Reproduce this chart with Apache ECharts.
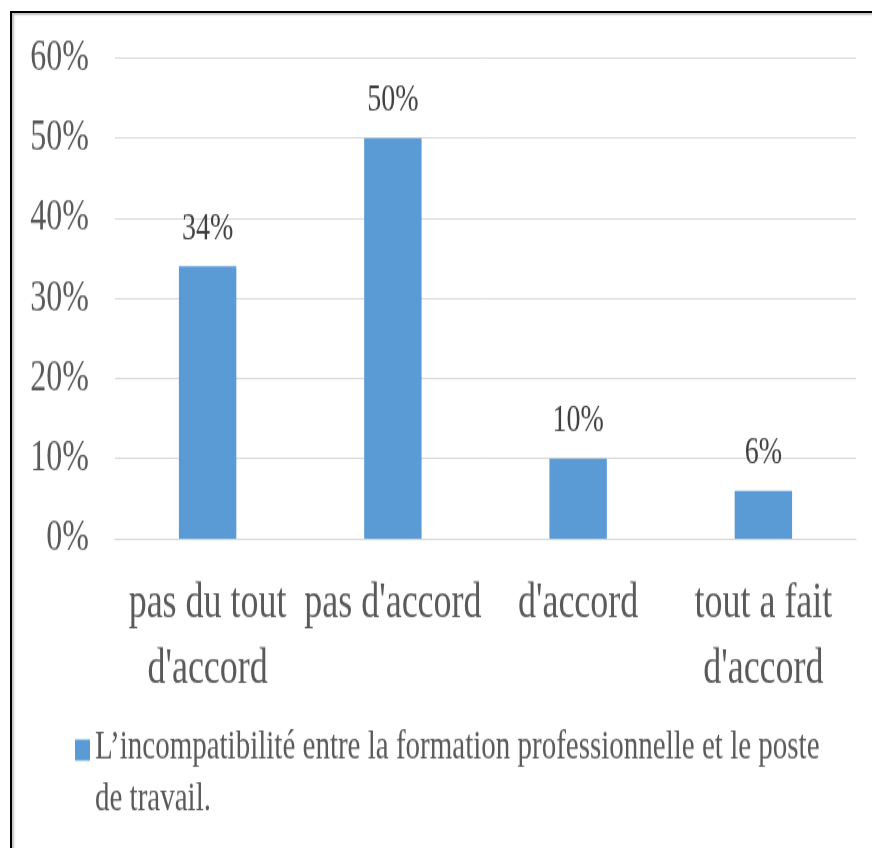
<!DOCTYPE html>
<html>
<head>
<meta charset="utf-8">
<script src="https://cdn.jsdelivr.net/npm/echarts@6/dist/echarts.min.js"></script>
<style>
html, body { margin: 0; padding: 0; background: #fff; overflow: hidden; width: 872px; height: 848px; }
#frame { position: absolute; left: 10px; top: 11px; width: 2000px; height: 2000px;
  border-top: 2px solid #000; border-left: 2px solid #000;
  box-shadow: inset 2px 2px 2px rgba(0,0,0,0.25); pointer-events: none; z-index: 2; }
#chart { position: absolute; left: 0; top: 0; width: 872px; height: 606px;
  transform: scaleY(1.3993); transform-origin: 0 0; }
</style>
</head>
<body>
<div id="chart"></div>
<div id="frame"></div>
<script>
// Data
const categories = ["pas du tout\nd'accord", "pas d'accord", "d'accord", "tout a fait\nd'accord"];
const values = [34, 50, 10, 6];
const seriesName = "L\u2019incompatibilit\u00e9 entre la formation professionnelle et le poste de travail.";
const yTicks = { min: 0, max: 60, interval: 10 };

const FONT = "'Liberation Serif', 'Times New Roman', serif";
const chart = echarts.init(document.getElementById('chart'), null, { renderer: 'canvas', width: 872, height: 606 });
chart.setOption({
  backgroundColor: 'transparent',
  animation: false,
  grid: { left: 115, right: 16, top: 41.4, bottom: 221, containLabel: false },
  legend: {
    show: true,
    left: 75,
    top: 516,
    padding: 0,
    itemWidth: 15,
    itemHeight: 49,
    icon: 'path://M0,0H15V15H0Z M7,48.9H7.1V49H7Z',
    formatter: function (name) { return name.replace(' de travail.', '\nde travail.'); },
    textStyle: { fontFamily: FONT, fontSize: 29, lineHeight: 37, color: '#595959' },
    data: [seriesName]
  },
  xAxis: {
    type: 'category',
    data: categories,
    axisTick: { show: false },
    axisLine: { show: true, lineStyle: { color: '#D9D9D9', width: 1 } },
    axisLabel: { fontFamily: FONT, fontSize: 36, lineHeight: 47, color: '#595959', margin: 23, interval: 0 }
  },
  yAxis: {
    type: 'value',
    min: yTicks.min, max: yTicks.max, interval: yTicks.interval,
    axisLine: { show: false },
    axisTick: { show: false },
    splitLine: { lineStyle: { color: '#D9D9D9', width: 1 } },
    axisLabel: { formatter: '{value}%', fontFamily: FONT, fontSize: 32, color: '#595959', margin: 26 }
  },
  series: [{
    name: seriesName,
    type: 'bar',
    data: values,
    barWidth: '31%',
    itemStyle: { color: '#5B9BD5' },
    label: {
      show: true, position: 'top', distance: 13,
      formatter: '{c}%', fontFamily: FONT, fontSize: 28, color: '#404040'
    }
  }]
});
</script>
</body>
</html>
